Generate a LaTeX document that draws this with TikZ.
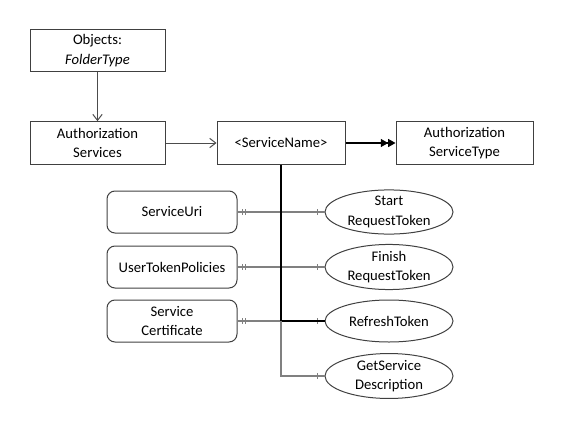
\documentclass[tikz,border=0pt]{standalone}
\usepackage{fontspec}
\setmainfont{Carlito}
\usetikzlibrary{arrows.meta,decorations.markings,shapes.geometric}
\tikzset{
  box/.style={draw=black!75,line width=0.75pt,minimum width=101.25pt,minimum height=32pt,inner sep=0pt,align=center},
  rbox/.style={box,rounded corners=6pt,minimum width=97.5pt,minimum height=31.5pt},
  oval/.style={draw=black!75,line width=0.75pt,ellipse,minimum width=96pt,minimum height=31.5pt,inner sep=0pt,align=center},
  link/.style={draw=black!50,line width=0.9pt},
  open/.style={draw=black!70,line width=0.75pt,-{Straight Barb[length=4.5pt,width=7pt]}},
  dbl/.style={line width=0.8pt,-{Triangle[length=5.5pt,width=6pt]Triangle[length=5.5pt,width=6pt]}},
  twobar/.style={postaction={decorate,decoration={markings,
    mark=at position 4pt with {\draw[black!50,line width=0.6pt] (0,-2.2pt) -- (0,2.2pt);},
    mark=at position 6pt with {\draw[black!50,line width=0.6pt] (0,-2.2pt) -- (0,2.2pt);}}}},
  onebar/.style={postaction={decorate,decoration={markings,
    mark=at position -5pt with {\draw[black!50,line width=0.6pt] (0,-2.2pt) -- (0,2.2pt);}}}}
}
\begin{document}
\begin{tikzpicture}[x=0.75pt,y=-0.75pt,font=\fontsize{11}{14.5}\selectfont]
    \useasboundingbox (0,0) rectangle (563,428);
    % top row
    \node[box] (obj) at (97.5,50.5) {Objects:\\\textit{FolderType}};
    \node[box] (as) at (97.5,143) {Authorization\\Services};
    \node[box,minimum width=96pt] (sn) at (281,143) {<ServiceName>};
    \node[box,minimum width=102.75pt] (ast) at (464.5,143) {Authorization\\ServiceType};
    % properties
    \node[rbox] (su) at (172,212) {ServiceUri};
    \node[rbox] (utp) at (172,267) {UserTokenPolicies};
    \node[rbox] (sc) at (172,321) {Service\\Certificate};
    % methods
    \node[oval] (srt) at (389,212) {Start\\RequestToken};
    \node[oval] (frt) at (389,267) {Finish\\RequestToken};
    \node[oval] (rt) at (389,321) {RefreshToken};
    \node[oval] (gsd) at (389,376) {GetService\\Description};
    \draw[open] (obj.south) -- (as.north);
    \draw[open] (as.east) -- (sn.west);
    \draw[dbl] (sn.east) -- (ast.west);
    \draw[link,twobar,onebar] (su.east) -- (srt.west);
    \draw[link,twobar,onebar] (utp.east) -- (frt.west);
    \draw[link,twobar,onebar] (sc.east) -- (rt.west);
    \draw[line width=1.6pt] (sn.south) -- (sn.south |- rt.west) coordinate (j);
    \draw[line width=0.9pt] (j) -- (rt.west);
    \draw[link,onebar] (j) |- (gsd.west);
\end{tikzpicture}
\end{document}
